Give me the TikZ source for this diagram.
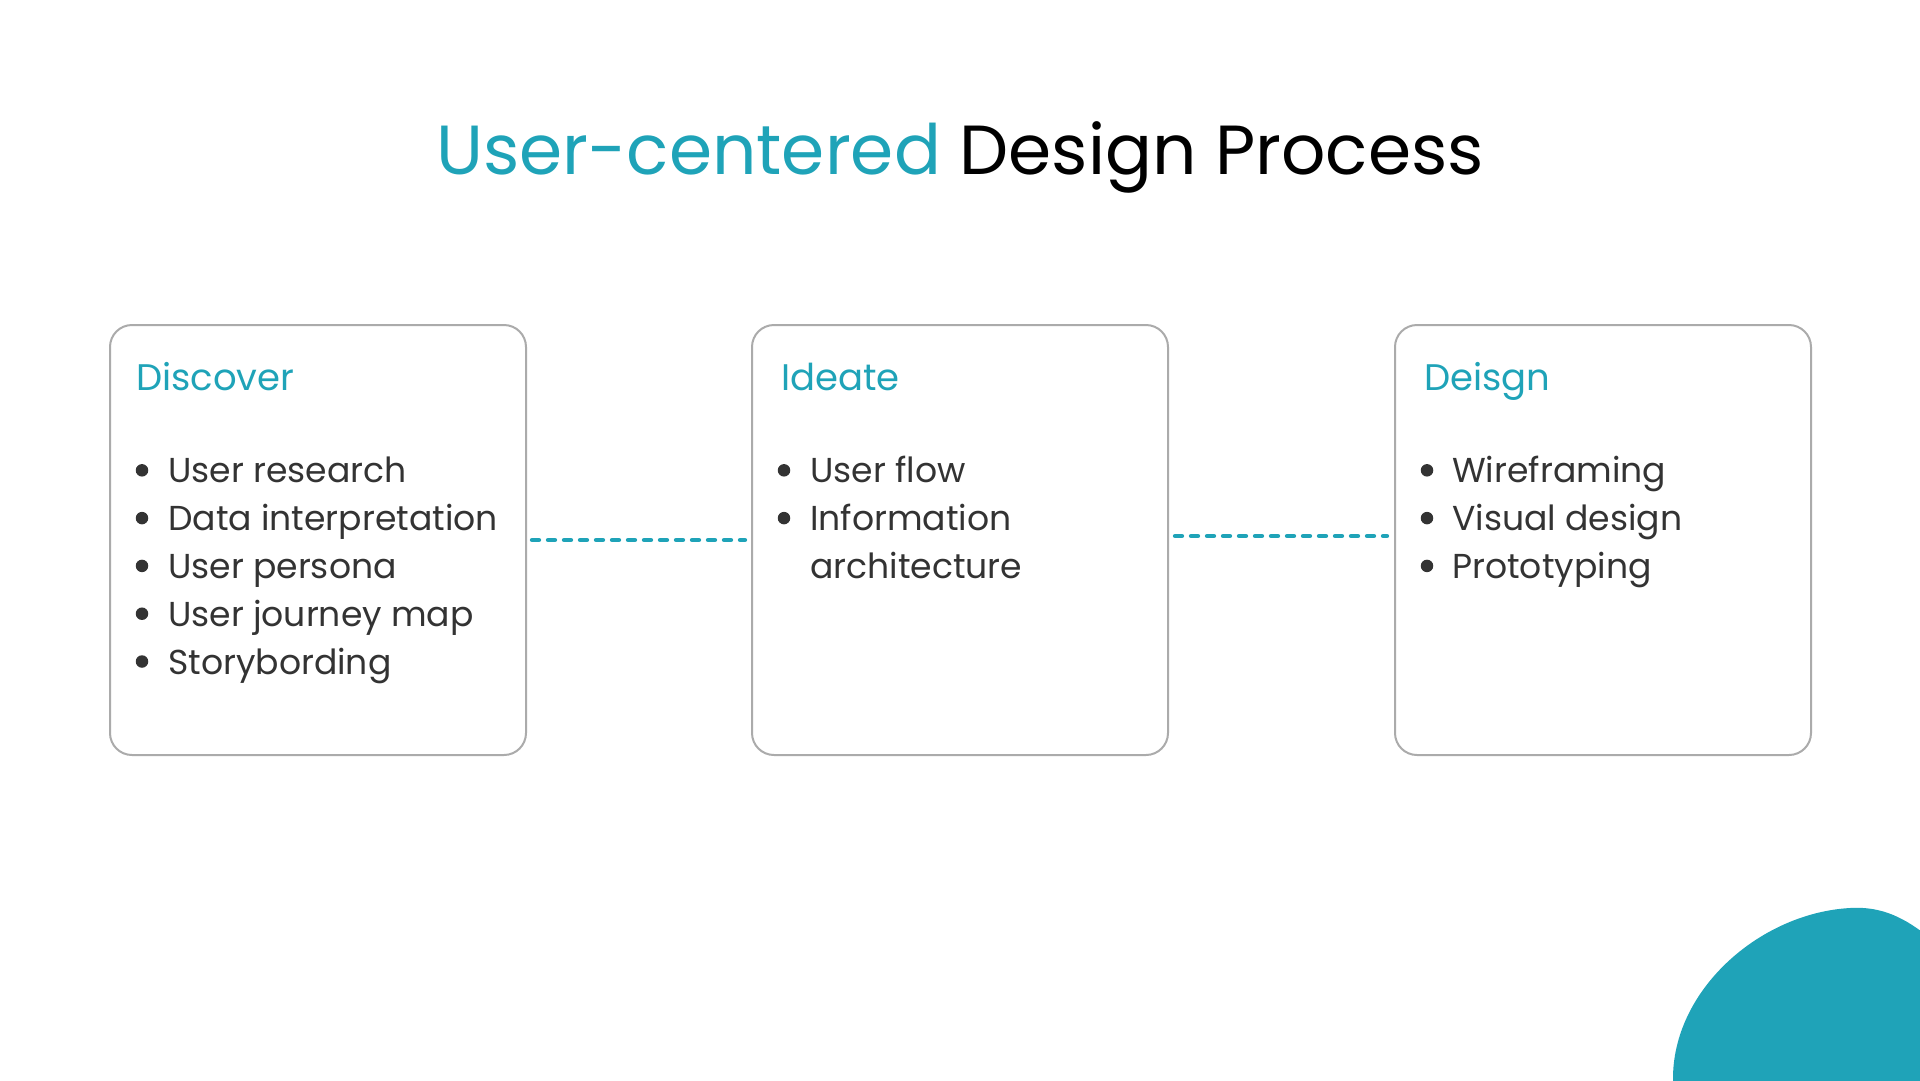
\documentclass[tikz,border=0pt]{standalone}
\usepackage{fontspec}
\setmainfont{Poppins}
\definecolor{teal}{HTML}{1FA3B8}
\definecolor{ink}{HTML}{333333}
\definecolor{frame}{HTML}{ABABAB}
\begin{document}
\begin{tikzpicture}[x=1pt,y=-1pt,
  stagebox/.style={draw=frame,line width=2pt,rounded corners=22pt,
    minimum width=416pt,minimum height=430pt,inner sep=0pt,anchor=north west},
  heading/.style={anchor=base west,inner sep=0pt,text=teal,
    font=\fontsize{37}{44}\selectfont},
  item/.style={anchor=base west,inner sep=0pt,text=ink,
    font=\fontsize{34.6}{47.8}\selectfont},
  dot/.style={circle,fill=ink,inner sep=0pt,minimum size=12.5pt},
  link/.style={draw=teal,line width=4.3pt,line cap=round,dash pattern=on 7pt off 9pt}]
\useasboundingbox (0,0) rectangle (1920,1080);

% title
\node[anchor=base,inner sep=0pt,font=\fontsize{69.5}{84}\selectfont] (title) at (960,174)
  {\textcolor{teal}{User-centered} Design Process};

% the three stages
\node[stagebox] (b1) at (109,324) {};
\node[stagebox] (b2) at (751,324) {};
\node[stagebox] (b3) at (1394,324) {};

\node[heading] (h1) at (136,390) {Discover};
\node[heading] (h2) at (781,390) {Ideate};
\node[heading] (h3) at (1424,390) {Deisgn};

% stage contents
\foreach \t [count=\i] in {User research,Data interpretation,User persona,User journey map,Storybording}{
  \node[item] (d\i) at (168,435+47.8*\i) {\t};
  \node[dot] (dd\i) at (142,422.5+47.8*\i) {};
}
\foreach \t [count=\i] in {User flow,Information}{
  \node[item] (i\i) at (810,435+47.8*\i) {\t};
  \node[dot] (id\i) at (784,422.5+47.8*\i) {};
}
\node[item] (i3) at (810,578.4) {architecture};
\foreach \t [count=\i] in {Wireframing,Visual design,Prototyping}{
  \node[item] (w\i) at (1452,435+47.8*\i) {\t};
  \node[dot] (wd\i) at (1427,422.5+47.8*\i) {};
}

% dashed links between stages
\draw[link] ([xshift=5pt]b1.east) -- ([xshift=-6pt]b2.west);
\draw[link] ([xshift=6pt,yshift=4pt]b2.east) -- ([xshift=-7pt,yshift=4pt]b3.west);

% corner blob
\begin{scope}
\clip (0,0) rectangle (1920,1080);
\fill[teal] (1673,1085) -- (1673,1080) .. controls (1672,990) and (1760,913) .. (1850,908)
  .. controls (1882,906) and (1905,918) .. (1930,938) -- (1930,1085) -- cycle;
\end{scope}
\end{tikzpicture}
\end{document}
